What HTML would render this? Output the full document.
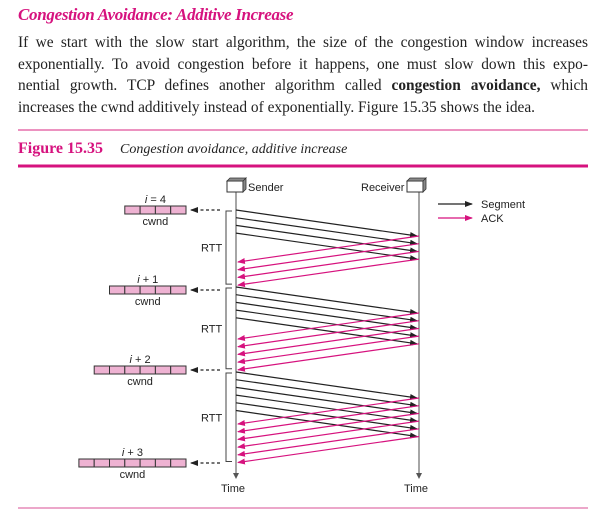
<!DOCTYPE html>
<html><head><meta charset="utf-8"><style>
body{margin:0;width:600px;height:520px;background:#fff;overflow:hidden;position:relative;font-family:"Liberation Serif",serif;}
.h{position:absolute;left:18px;top:5px;font-size:17px;font-weight:bold;font-style:italic;color:#d6127e;letter-spacing:-0.3px;}
.p{position:absolute;left:18px;top:32px;width:570px;font-size:15.4px;line-height:21.5px;color:#222;}
.p div{text-align:justify;text-align-last:justify;white-space:nowrap;}
.p div.l{text-align-last:left;}
</style></head><body>
<div class="h">Congestion Avoidance: Additive Increase</div>
<div class="p">
<div>If we start with the slow start algorithm, the size of the congestion window increases</div>
<div>exponentially. To avoid congestion before it happens, one must slow down this expo-</div>
<div>nential growth. TCP defines another algorithm called <b>congestion avoidance,</b> which</div>
<div class="l">increases the cwnd additively instead of exponentially. Figure 15.35 shows the idea.</div>
</div>
<svg id="s" width="600" height="520" style="position:absolute;left:0;top:0" xmlns="http://www.w3.org/2000/svg">
<defs>
<marker id="ab" markerWidth="8" markerHeight="6" refX="7" refY="3" orient="auto" markerUnits="userSpaceOnUse"><path d="M0,0 L8,3 L0,6z" fill="#222"/></marker>
<marker id="ap" markerWidth="8" markerHeight="6" refX="7" refY="3" orient="auto" markerUnits="userSpaceOnUse"><path d="M0,0 L8,3 L0,6z" fill="#d6127e"/></marker>
</defs>
<line x1="18" y1="130" x2="588" y2="130" stroke="#e0529a" stroke-width="1.2"/>
<text x="18" y="153" font-family="Liberation Serif" font-weight="bold" font-size="16" fill="#d6127e">Figure 15.35</text>
<text x="120" y="153" font-family="Liberation Serif" font-style="italic" font-size="14" fill="#222">Congestion avoidance, additive increase</text>
<line x1="18" y1="166" x2="588" y2="166" stroke="#d6127e" stroke-width="3"/>
<line x1="18" y1="508" x2="588" y2="508" stroke="#e58ab8" stroke-width="1.5"/>
<g font-family="Liberation Sans" font-size="11" fill="#222">
<line x1="236" y1="191" x2="236" y2="476" stroke="#777" stroke-width="1.3"/>
<line x1="419" y1="191" x2="419" y2="476" stroke="#777" stroke-width="1.3"/>
<path d="M233,473 L236,479 L239,473z M416,473 L419,479 L422,473z" fill="#555"/>
<rect x="227" y="181" width="16" height="11" fill="#fff" stroke="#333"/><path d="M227,181 L230,178 L246,178 L243,181z M243,181 L246,178 L246,189 L243,192z" fill="#888" stroke="#333" stroke-width="0.8"/>
<rect x="407" y="181" width="16" height="11" fill="#fff" stroke="#333"/><path d="M407,181 L410,178 L426,178 L423,181z M423,181 L426,178 L426,189 L423,192z" fill="#888" stroke="#333" stroke-width="0.8"/>
<text x="248" y="191">Sender</text><text x="361" y="191">Receiver</text>
<line x1="438" y1="204" x2="472" y2="204" stroke="#222" stroke-width="1.3" marker-end="url(#ab)"/>
<line x1="438" y1="218" x2="472" y2="218" stroke="#d6127e" stroke-width="1.3" marker-end="url(#ap)"/>
<text x="481" y="208">Segment</text><text x="481" y="222">ACK</text>
<text x="221" y="492">Time</text><text x="404" y="492">Time</text>
<g id="g"></g>
</g>
</svg>
<script>
var g=document.getElementById('g'),ns='http://www.w3.org/2000/svg';
function el(t,a,txt){var e=document.createElementNS(ns,t);for(var k in a)e.setAttribute(k,a[k]);if(txt)e.textContent=txt;g.appendChild(e);return e;}
var groups=[[4,210,'i = 4',210],[5,287,'i + 1',290],[6,372,'i + 2',370],[null,null,'i + 3',463]];
var st=7.7,sh=26;
groups.forEach(function(G,gi){
 var n=G[0]||7,y0=G[1];
 if(G[0]){
  for(var i=0;i<n;i++){var ys=y0+i*st;el('line',{x1:236,y1:ys,x2:417,y2:ys+sh,stroke:'#222','stroke-width':1.2,'marker-end':'url(#ab)'});}
  for(var i=0;i<n;i++){var ys=y0+i*st+sh;el('line',{x1:419,y1:ys,x2:238,y2:ys+sh,stroke:'#d6127e','stroke-width':1.2,'marker-end':'url(#ap)'});}
  var yb=y0+(n-1)*st+2*sh;
  el('path',{d:'M232,'+(y0+1)+' L226,'+(y0+1)+' L226,'+(yb-1)+' L232,'+(yb-1),fill:'none',stroke:'#444','stroke-width':1});
  el('text',{x:201,y:(y0+yb)/2+4},'RTT');
 }
 var yc=G[3],w=15.3,nc=gi+4,xr=186,xl=xr-nc*w;
 for(var i=0;i<nc;i++)el('rect',{x:xl+i*w,y:yc-4,width:w,height:8,fill:'#eeb2d2',stroke:'#333','stroke-width':1});
 el('line',{x1:220,y1:yc,x2:191,y2:yc,stroke:'#222','stroke-width':1.2,'stroke-dasharray':'3,2.5','marker-end':'url(#ab)'});
 var cx=(xl+xr)/2;
 var t=el('text',{x:cx,y:yc-7,'text-anchor':'middle'});t.innerHTML='<tspan font-style="italic">'+G[2].split(' ')[0]+'</tspan> '+G[2].split(' ').slice(1).join(' ');
 el('text',{x:cx,y:yc+15,'text-anchor':'middle'},'cwnd');
});
</script>
</body></html>
